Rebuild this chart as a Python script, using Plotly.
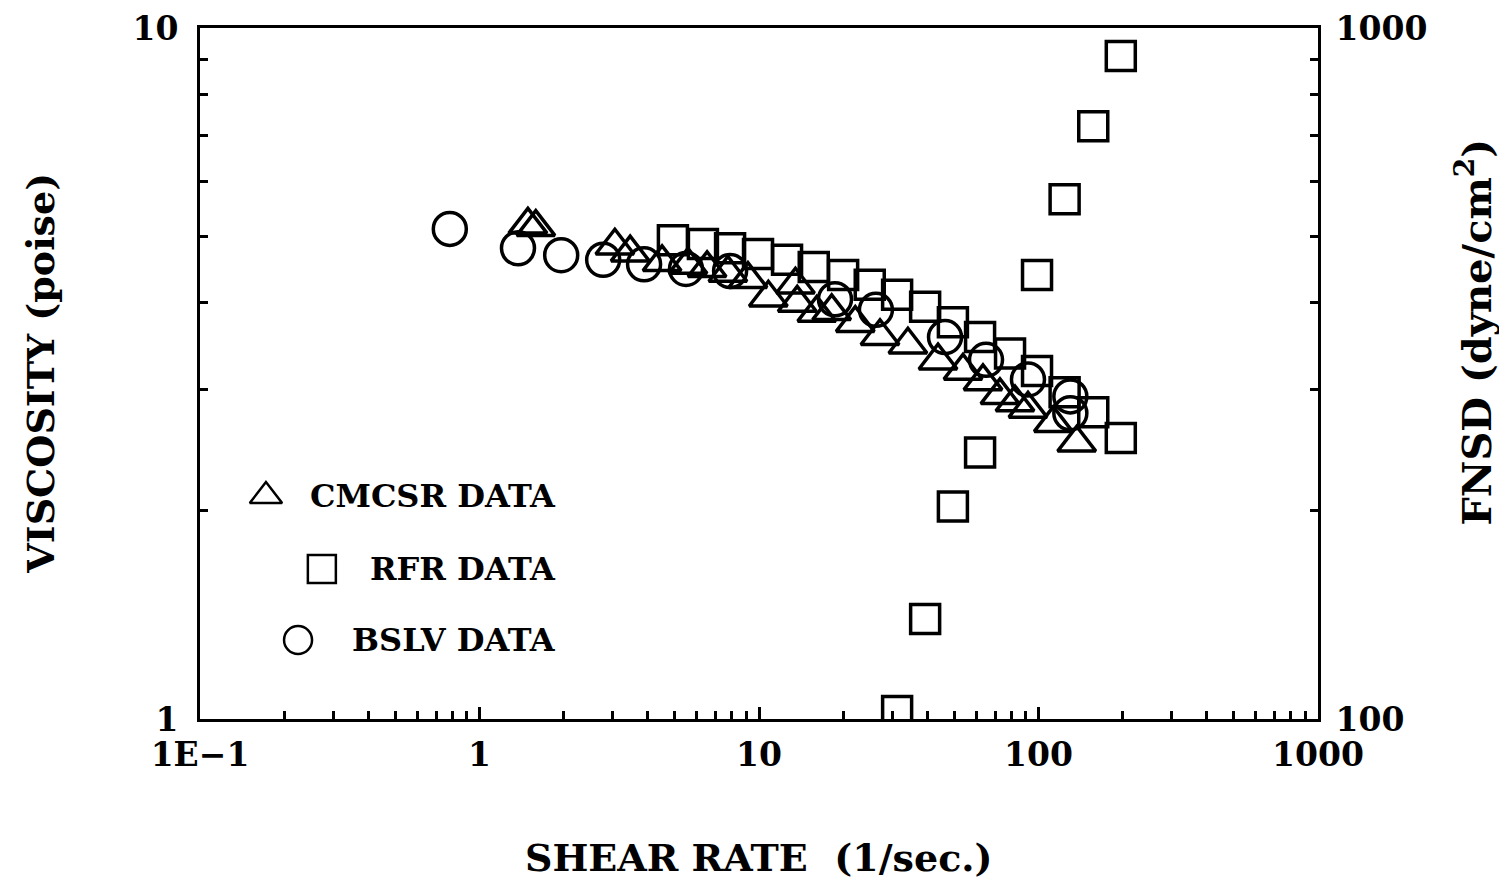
import plotly.graph_objects as go

# CMCSR data (viscosity, poise)
cmcsr_rate = [1.49, 1.59, 3.05, 3.46, 4.50, 5.57, 6.52, 7.74, 9.13, 10.8, 13.5, 13.7, 16.1, 18.2,
              22.1, 27.1, 34.1, 43.7, 53.7, 63.3, 72.8, 82.4, 91.7, 113, 137]
cmcsr_visc = [5.19, 5.15, 4.84, 4.73, 4.58, 4.54, 4.49, 4.42, 4.33, 4.07, 4.25, 4.00, 3.87, 3.89,
              3.74, 3.58, 3.48, 3.30, 3.19, 3.08, 2.94, 2.87, 2.81, 2.68, 2.51]

# RFR data: viscosity (poise)
rfr_rate = [4.92, 6.30, 7.88, 9.92, 12.6, 15.7, 20.0, 24.9, 31.2, 39.3, 49.4, 61.8, 79.1, 98.8,
            124, 157, 197]
rfr_visc = [4.93, 4.87, 4.80, 4.71, 4.62, 4.51, 4.39, 4.25, 4.11, 3.95, 3.75, 3.57, 3.38, 3.19,
            2.97, 2.78, 2.55]

# RFR data: FNSD (dyne/cm^2), right axis
rfr_fnsd_rate = [31.2, 39.3, 49.4, 61.8, 98.8, 124, 157, 197]
rfr_fnsd = [102.7, 139.5, 203, 243, 439, 565, 721, 911]

# BSLV data (viscosity, poise)
bslv_rate = [0.783, 1.373, 1.96, 2.77, 3.88, 5.48, 7.88, 18.7, 26.2, 46.3, 64.9, 91.7, 130, 130]
bslv_visc = [5.12, 4.80, 4.69, 4.62, 4.55, 4.48, 4.45, 4.05, 3.91, 3.57, 3.31, 3.10, 2.93, 2.77]

x_tickvals = [0.1, 1, 10, 100, 1000]
x_ticktext = ["1E\u22121", "1", "10", "100", "1000"]
y_tickvals = [1, 10]
y2_tickvals = [100, 1000]
legend_labels = ["CMCSR DATA", "RFR DATA", "BSLV DATA"]

FONT = "DejaVu Serif"
LW = 3
MLW = 3.5

fig = go.Figure()

mk = lambda sym, size: dict(symbol=sym, size=size, color="black", line=dict(color="black", width=MLW))

fig.add_trace(go.Scatter(x=cmcsr_rate, y=cmcsr_visc, mode="markers",
                         marker=mk("triangle-up-open", 33), showlegend=False))
fig.add_trace(go.Scatter(x=rfr_rate, y=rfr_visc, mode="markers",
                         marker=mk("square-open", 29), showlegend=False))
fig.add_trace(go.Scatter(x=rfr_fnsd_rate, y=rfr_fnsd, mode="markers", yaxis="y2",
                         marker=mk("square-open", 29), showlegend=False))
fig.add_trace(go.Scatter(x=bslv_rate, y=bslv_visc, mode="markers",
                         marker=mk("circle-open", 33), showlegend=False))

# Legend symbols drawn on an overlay axis (0..1 across the plot area)
leg_x = [0.0590, 0.109, 0.0877]
leg_y = [0.3227, 0.217, 0.1143]
leg_sym = ["triangle-up-open", "square-open", "circle-open"]
for lx, ly, s in zip(leg_x, leg_y, leg_sym):
    fig.add_trace(go.Scatter(x=[lx], y=[ly], mode="markers", xaxis="x3", yaxis="y3",
                             marker=dict(symbol=s, size=28, color="black",
                                         line=dict(color="black", width=2.5)),
                             showlegend=False))
for lab, ly in zip(legend_labels, leg_y):
    fig.add_annotation(x=0.320, y=ly, xref="paper", yref="paper", text=lab, showarrow=False,
                       xanchor="right", yanchor="middle",
                       font=dict(family=FONT, size=32, color="black", weight="bold"))

axis_common = dict(type="log", showgrid=False, zeroline=False, linecolor="black", linewidth=LW,
                   ticks="inside", ticklen=12, tickwidth=LW, tickcolor="black", automargin=False,
                   ticklabeloverflow="allow",
                   tickfont=dict(family=FONT, size=33, color="black", weight="bold"))

# page body has an 8px margin; margins below compensate so the plot area
# sits at about x 200..1318, y 28..719 in the window
fig.update_layout(
    width=1507, height=881,
    margin=dict(l=192, r=197, t=20, b=170),
    paper_bgcolor="white", plot_bgcolor="white",
    showlegend=False,
    xaxis=dict(**axis_common, range=[-1, 3], tickvals=x_tickvals, ticktext=x_ticktext,
               mirror=True, ticklabelstandoff=4,
               minor=dict(ticks="inside", ticklen=8, tickwidth=LW, tickcolor="black",
                          tickvals=[m * 10 ** e for e in range(-1, 3) for m in range(2, 10)])),
    yaxis=dict(**axis_common, range=[0, 1], tickvals=y_tickvals, ticktext=["1", "10"],
               ticklabelstandoff=12,
               minor=dict(ticks="inside", ticklen=8, tickwidth=LW, tickcolor="black",
                          tickvals=[m for m in range(2, 10)])),
    yaxis2=dict(**axis_common, range=[2, 3], overlaying="y", side="right", tickvals=y2_tickvals,
                ticktext=["100", "1000"], ticklabelstandoff=8,
                minor=dict(ticks="inside", ticklen=8, tickwidth=LW, tickcolor="black",
                           tickvals=[m * 100 for m in range(2, 10)])),
    xaxis3=dict(overlaying="x", range=[0, 1], visible=False),
    yaxis3=dict(overlaying="y", range=[0, 1], visible=False),
)

fig.add_annotation(x=0.5, y=-0.2, xref="paper", yref="paper", text="SHEAR RATE  (1/sec.)",
                   showarrow=False, xanchor="center", yanchor="middle",
                   font=dict(family=FONT, size=38, color="black", weight="bold"))
fig.add_annotation(x=-0.143, y=0.5, xref="paper", yref="paper", text="VISCOSITY (poise)",
                   showarrow=False, textangle=-90, xanchor="center", yanchor="middle",
                   font=dict(family=FONT, size=38, color="black", weight="bold"))
fig.add_annotation(x=1.140, y=0.56, xref="paper", yref="paper", text="FNSD (dyne/cm<sup>2</sup>)",
                   showarrow=False, textangle=-90, xanchor="center", yanchor="middle",
                   font=dict(family=FONT, size=40, color="black", weight="bold"))

fig.write_html("out.html")
